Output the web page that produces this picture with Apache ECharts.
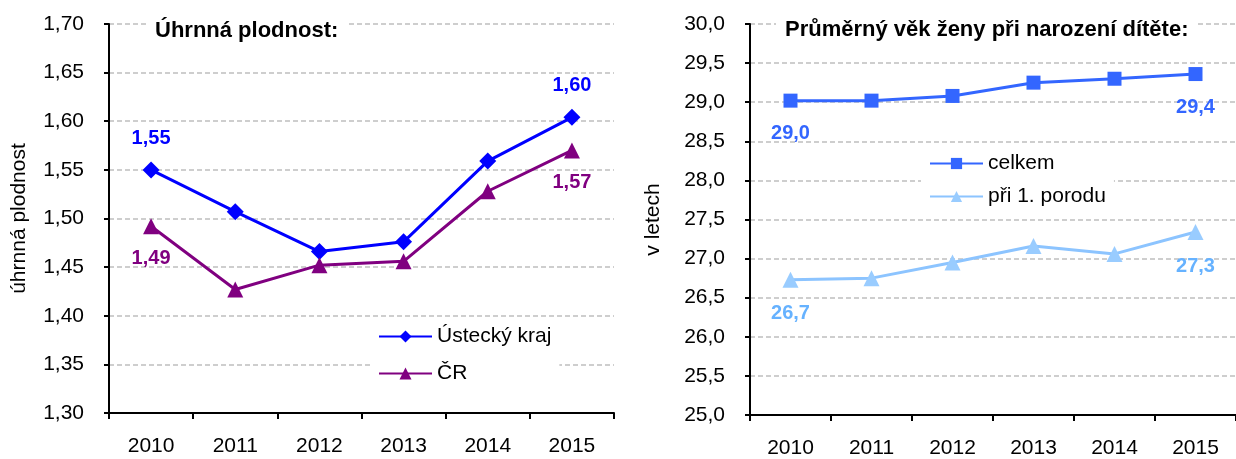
<!DOCTYPE html>
<html>
<head>
<meta charset="utf-8">
<script src="https://cdn.jsdelivr.net/npm/echarts@6/dist/echarts.min.js"></script>
<style>
html,body{margin:0;padding:0;background:#fff;}
#main{width:1236px;height:459px;}
</style>
</head>
<body>
<div id="main"></div>
<script>
var years = ['2010','2011','2012','2013','2014','2015'];
var ustecky = [1.550, 1.507, 1.466, 1.476, 1.559, 1.604];
var cr = [1.492, 1.427, 1.452, 1.456, 1.528, 1.570];
var celkem = [29.02, 29.02, 29.08, 29.25, 29.30, 29.36];
var prvniPorod = [26.73, 26.75, 26.95, 27.16, 27.06, 27.34];

var fontName = '"Liberation Sans", Arial, sans-serif';
var myChart;

function comma(v, d) {
	return v.toFixed(d).replace('.', ',');
}

// label only on first and last point
function endLabels(values, pos, color, d, dist) {
	return values.map(function(v, i){
		var show = (i === 0 || i === values.length - 1);
		return {
			value: v,
			label: {
				show: show,
				position: pos,
				distance: dist,
				color: color,
				fontFamily: fontName,
				fontWeight: 'bold',
				fontSize: 20,
				formatter: function(p){ return comma(p.value, d); }
			}
		};
	});
}

function xAxisOpt(gridIndex) {
	return {
		type: 'category',
		gridIndex: gridIndex,
		data: years,
		boundaryGap: true,
		axisLine: {lineStyle: {color: '#000', width: 2}},
		axisTick: {show: true, interval: 0, length: 6, lineStyle: {color: '#000', width: 2}},
		axisLabel: {interval: 0, margin: 23, color: '#000', fontSize: 21, fontFamily: fontName},
		splitLine: {show: false}
	};
}

function yAxisOpt(gridIndex, min, max, step, d, name, gap) {
	return {
		type: 'value',
		gridIndex: gridIndex,
		min: min,
		max: max,
		interval: step,
		name: name,
		nameLocation: 'middle',
		nameGap: gap,
		nameTextStyle: {color: '#000', fontSize: 21, fontFamily: fontName},
		axisLine: {show: true, lineStyle: {color: '#000', width: 2}},
		axisTick: {show: true, length: 5, lineStyle: {color: '#000', width: 2}},
		axisLabel: {margin: 25, color: '#000', fontSize: 21, fontFamily: fontName,
			formatter: function(v){ return comma(v, d); }},
		splitLine: {show: true, lineStyle: {color: '#bfbfbf', type: [5, 3], width: 1.5}}
	};
}

function getOption() {
	var option = {
		backgroundColor: '#fff',
		animation: false,
		title: [{
			text: 'Úhrnná plodnost:',
			left: 146, top: 18,
			padding: [2, 9],
			backgroundColor: '#fff',
			textStyle: {color: '#000', fontSize: 22, fontWeight: 'bold', fontFamily: fontName}
		},{
			text: 'Průměrný věk ženy při narození dítěte:',
			left: 776, top: 17,
			padding: [2, 9],
			backgroundColor: '#fff',
			textStyle: {color: '#000', fontSize: 22, fontWeight: 'bold', fontFamily: fontName}
		}],
		legend: [{
			data: ['Ústecký kraj', 'ČR'],
			orient: 'vertical',
			left: 370, top: 326,
			padding: [0, 8],
			backgroundColor: '#fff',
			itemWidth: 53, itemHeight: 15, itemGap: 16,
			textStyle: {color: '#000', fontSize: 21, fontFamily: fontName}
		},{
			data: ['celkem', 'při 1. porodu'],
			orient: 'vertical',
			left: 921, top: 153,
			padding: [0, 8],
			backgroundColor: '#fff',
			itemWidth: 53, itemHeight: 14, itemGap: 12,
			textStyle: {color: '#000', fontSize: 21, fontFamily: fontName}
		}],
		grid: [
			{left: 109, right: 622, top: 24, bottom: 46},
			{left: 750, right: -8, top: 24, bottom: 44}
		],
		xAxis: [xAxisOpt(0), xAxisOpt(1)],
		yAxis: [
			yAxisOpt(0, 1.3, 1.7, 0.05, 2, 'úhrnná plodnost', 79),
			yAxisOpt(1, 25, 30, 0.5, 1, 'v letech', 86)
		],
		series: [{
			name: 'Ústecký kraj',
			type: 'line',
			xAxisIndex: 0, yAxisIndex: 0,
			symbol: 'diamond', symbolSize: 17,
			lineStyle: {color: '#0000ff', width: 3},
			itemStyle: {color: '#0000ff'},
			data: endLabels(ustecky, 'top', '#0000ff', 2, 13)
		},{
			name: 'ČR',
			type: 'line',
			xAxisIndex: 0, yAxisIndex: 0,
			symbol: 'triangle', symbolSize: 16,
			lineStyle: {color: '#800080', width: 3},
			itemStyle: {color: '#800080'},
			data: endLabels(cr, 'bottom', '#800080', 2, 14)
		},{
			name: 'celkem',
			type: 'line',
			xAxisIndex: 1, yAxisIndex: 1,
			symbol: 'rect', symbolSize: 14,
			lineStyle: {color: '#3366ff', width: 3},
			itemStyle: {color: '#3366ff'},
			data: endLabels(celkem, 'bottom', '#3366ff', 1, 16)
		},{
			name: 'při 1. porodu',
			type: 'line',
			xAxisIndex: 1, yAxisIndex: 1,
			symbol: 'triangle', symbolSize: 16,
			lineStyle: {color: '#8cc4ff', width: 3},
			itemStyle: {color: '#99ccff'},
			data: endLabels(prvniPorod, 'bottom', '#66b2ff', 1, 16)
		}]
	};
	return option;
}

myChart = echarts.init(document.getElementById('main'));
myChart.setOption(getOption(), true);
</script>
</body>
</html>
